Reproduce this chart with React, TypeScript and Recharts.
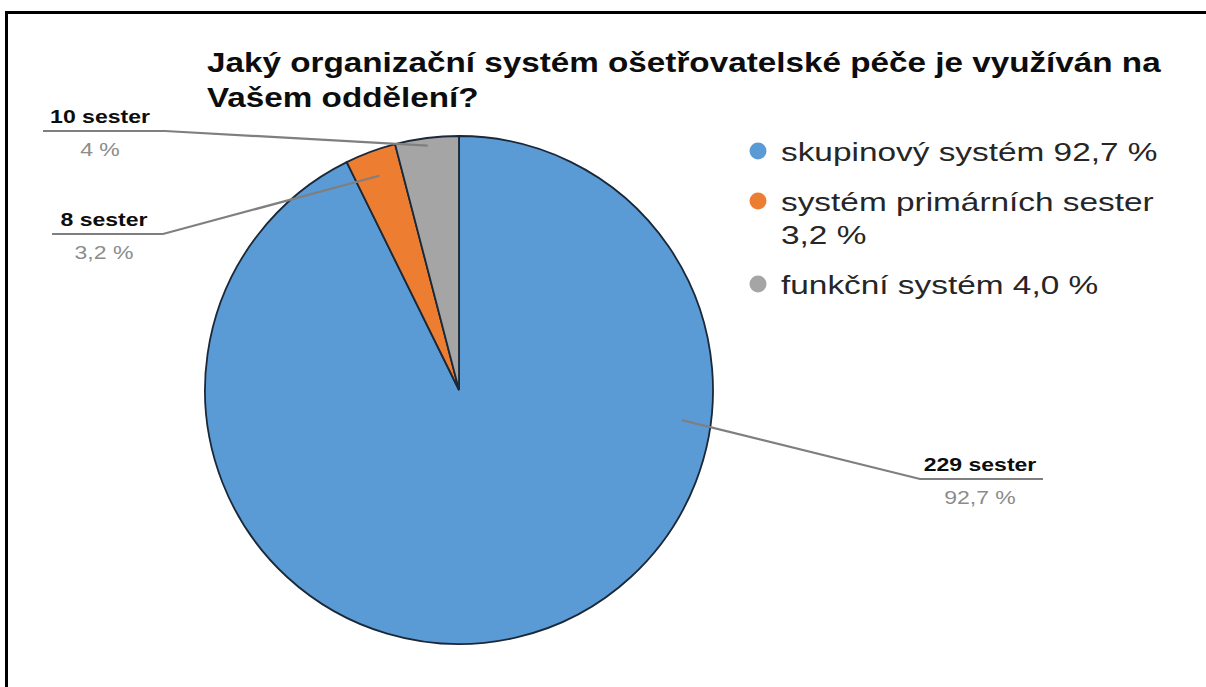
import { PieChart, Pie, Cell, Legend } from 'recharts'

const categories = ['skupinový systém', 'systém primárních sester', 'funkční systém']
const counts = [229, 8, 10]
const legendPct = ['92,7 %', '3,2 %', '4,0 %']
const labelPct = ['92,7 %', '3,2 %', '4 %']
const colors = ['#5B9BD5', '#ED7D31', '#A5A5A5']
const titleLines = ['Jaký organizační systém ošetřovatelské péče je využíván na', 'Vašem oddělení?']

const data = categories.map((name, i) => ({ name, value: counts[i] }))

const W = 1206
const H = 687
const FONT = '"Liberation Sans", Arial, sans-serif'
// the original picture is stretched sideways, so the text is too
const SX = 1.28
const RAD = Math.PI / 180

// where the data labels sit; angle null = middle of the slice
const LABEL_POS = [
  { angle: -7.7, frac: 0.885, lineY: 479, x1: 920, x2: 1043, textX: 980 },
  { angle: null, frac: 0.9, lineY: 234, x1: 163, x2: 52, textX: 104 },
  { angle: null, frac: 0.97, lineY: 131, x1: 165, x2: 43, textX: 100 },
]

function SText({ x, y, size, weight = 'normal', fill, anchor = 'middle', sx = SX, children }: any) {
  return (
    <g transform={`translate(${x} ${y}) scale(${sx} 1)`}>
      <text x={0} y={0} textAnchor={anchor} fontFamily={FONT} fontSize={size} fontWeight={weight} fill={fill}>
        {children}
      </text>
    </g>
  )
}

function renderLabel(props: any) {
  const { cx, cy, outerRadius, midAngle, index } = props
  const p = LABEL_POS[index]
  const a = (p.angle ?? midAngle) * RAD
  const ax = cx + outerRadius * p.frac * Math.cos(a)
  const ay = cy - outerRadius * p.frac * Math.sin(a)
  return (
    <g key={`lbl-${index}`}>
      <polyline points={`${ax},${ay} ${p.x1},${p.lineY} ${p.x2},${p.lineY}`} fill="none" stroke="#7f7f7f" strokeWidth={2.2} />
      <SText x={p.textX} y={p.lineY - 8} size={18} weight="bold" fill="#0d0d0d">{counts[index]} sester</SText>
      <SText x={p.textX} y={p.lineY + 25} size={18} fill="#8c8c8c">{labelPct[index]}</SText>
    </g>
  )
}

function renderLegend(props: any) {
  const items = props.payload || []
  let y = 41
  return (
    <svg width={460} height={200}>
      {items.map((it: any, i: number) => {
        const full = `${categories[i]} ${legendPct[i]}`
        const lines = full.length > 24 ? [categories[i], legendPct[i]] : [full]
        const base = y
        y += 50 + (lines.length - 1) * 33
        return (
          <g key={i}>
            <circle cx={18} cy={base - 10} r={8.5} fill={colors[i]} />
            {lines.map((ln, j) => (
              <SText key={j} x={41} y={base + j * 33} size={26.5} sx={1.26} fill="#262626" anchor="start">{ln}</SText>
            ))}
          </g>
        )
      })}
    </svg>
  )
}

export default function App() {
  return (
    <div style={{ position: 'absolute', left: 0, top: 0, width: W, height: H, background: '#fff', overflow: 'hidden' }}>
      <PieChart width={W} height={H} margin={{ top: 0, right: 0, bottom: 0, left: 0 }}>
        <Pie
          data={data}
          dataKey="value"
          nameKey="name"
          cx={459}
          cy={390}
          outerRadius={254}
          startAngle={90}
          endAngle={-270}
          stroke="#1b2838"
          strokeWidth={1.8}
          label={renderLabel}
          labelLine={false}
          isAnimationActive={false}
        >
          {data.map((d, i) => <Cell key={d.name} fill={colors[i]} />)}
        </Pie>
        <Legend
          layout="vertical"
          align="right"
          verticalAlign="top"
          content={renderLegend}
          wrapperStyle={{ left: 740, top: 120, width: 460, height: 200 }}
        />
      </PieChart>
      <svg width={W} height={H} style={{ position: 'absolute', left: 0, top: 0, pointerEvents: 'none' }}>
        {titleLines.map((t, i) => (
          <SText key={i} x={207} y={72 + i * 35} size={27} sx={1.232} weight="bold" fill="#0d0d0d" anchor="start">{t}</SText>
        ))}
      </svg>
      <div style={{ position: 'absolute', left: 5, top: 11, right: 0, bottom: 0, borderTop: '3px solid #000', borderLeft: '3px solid #000' }} />
    </div>
  )
}
